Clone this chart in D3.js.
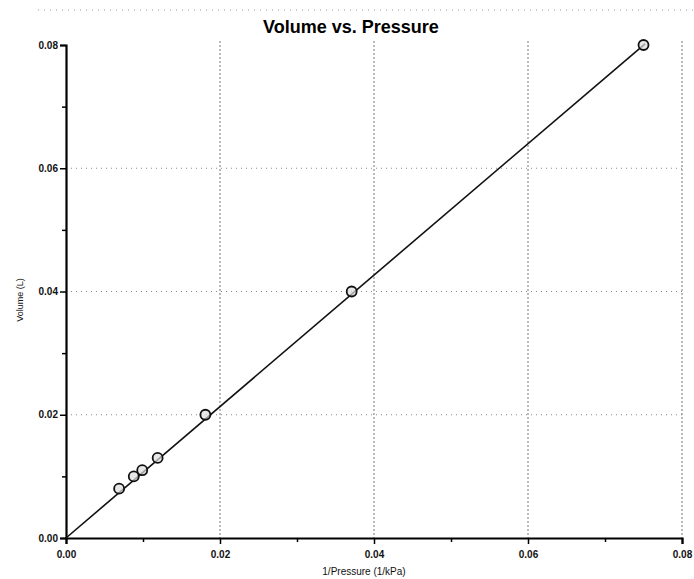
<!DOCTYPE html>
<html><head><meta charset="utf-8">
<script src="https://cdn.jsdelivr.net/npm/d3@7"></script>
<style>body{margin:0;background:#fff}svg{display:block}</style>
</head><body>
<svg id="c" width="694" height="579"></svg>
<script>
const invPressure = [0.0069, 0.0088, 0.0099, 0.0119, 0.0181, 0.0371, 0.0750];
const volume      = [0.008, 0.010, 0.011, 0.013, 0.020, 0.040, 0.080];
const fitX = [0, 0.0752];
const fitY = [0, 0.0802];
const xTicks = [0, 0.02, 0.04, 0.06, 0.08];
const yTicks = [0, 0.02, 0.04, 0.06, 0.08];
const minorTicks = [0.01, 0.03, 0.05, 0.07];

const svg = d3.select("#c");
const x = d3.scaleLinear().domain([0, 0.08]).range([66, 682]);
const y = d3.scaleLinear().domain([0, 0.08]).range([538, 45]);
const fmt = d3.format(".2f");

// top frame dotted line
svg.append("line").attr("x1", 38).attr("x2", 694).attr("y1", 10).attr("y2", 10)
  .attr("stroke", "#999").attr("stroke-width", 1).attr("stroke-dasharray", "1,5");

// grid
svg.append("g").selectAll("line").data(yTicks.filter(d => d > 0 && d < 0.08)).join("line")
  .attr("x1", x(0)).attr("x2", x(0.08)).attr("y1", d => y(d)).attr("y2", d => y(d))
  .attr("stroke", "#888").attr("stroke-width", 1).attr("stroke-dasharray", "1,4");
svg.append("g").selectAll("line").data(xTicks.filter(d => d > 0)).join("line")
  .attr("x1", d => x(d)).attr("x2", d => x(d)).attr("y1", y(0.08) - 4).attr("y2", y(0))
  .attr("stroke", "#777").attr("stroke-width", 1).attr("stroke-dasharray", "2,2");

// axes
const xAxis = svg.append("g").attr("transform", `translate(0,${y(0)})`)
  .call(d3.axisBottom(x).tickValues(xTicks).tickFormat(fmt).tickSize(6).tickPadding(7));
const yAxis = svg.append("g").attr("transform", `translate(${x(0)},0)`)
  .call(d3.axisLeft(y).tickValues(yTicks).tickFormat(fmt).tickSize(6).tickPadding(2));
svg.append("g").attr("transform", `translate(0,${y(0)})`)
  .call(d3.axisBottom(x).tickValues(minorTicks).tickFormat("").tickSize(4))
  .call(g => g.select(".domain").remove());
svg.append("g").attr("transform", `translate(${x(0)},0)`)
  .call(d3.axisLeft(y).tickValues(minorTicks).tickFormat("").tickSize(4))
  .call(g => g.select(".domain").remove());
[xAxis, yAxis].forEach(g => {
  g.select(".domain").attr("stroke", "#000").attr("stroke-width", 2.2);
  g.selectAll("text").attr("font-family", "Liberation Sans, Arial, sans-serif")
    .attr("font-size", 10).attr("font-weight", "bold").attr("fill", "#111");
});
svg.selectAll(".tick line").attr("stroke", "#000").attr("stroke-width", 1.5);

// fit line
const line = d3.line().x(d => x(d[0])).y(d => y(d[1]));
svg.append("path").datum(fitX.map((v, i) => [v, fitY[i]]))
  .attr("d", line).attr("fill", "none").attr("stroke", "#111").attr("stroke-width", 1.6);

// points
svg.append("g").selectAll("circle").data(invPressure.map((v, i) => [v, volume[i]])).join("circle")
  .attr("cx", d => x(d[0])).attr("cy", d => y(d[1])).attr("r", 5)
  .attr("fill", "#ddd").attr("fill-opacity", 0.7).attr("stroke", "#111").attr("stroke-width", 1.8);

// title and labels
svg.append("text").attr("x", 351).attr("y", 33).attr("text-anchor", "middle")
  .attr("font-family", "Liberation Sans, Arial, sans-serif").attr("font-size", 18)
  .attr("font-weight", "bold").attr("fill", "#000").text("Volume vs. Pressure");
svg.append("text").attr("x", 364).attr("y", 575).attr("text-anchor", "middle")
  .attr("font-family", "Liberation Sans, Arial, sans-serif").attr("font-size", 10)
  .attr("fill", "#111").text("1/Pressure (1/kPa)");
svg.append("text").attr("transform", "translate(23,300) rotate(-90)").attr("text-anchor", "middle")
  .attr("font-family", "Liberation Sans, Arial, sans-serif").attr("font-size", 9)
  .attr("fill", "#111").text("Volume (L)");
</script>
</body></html>
